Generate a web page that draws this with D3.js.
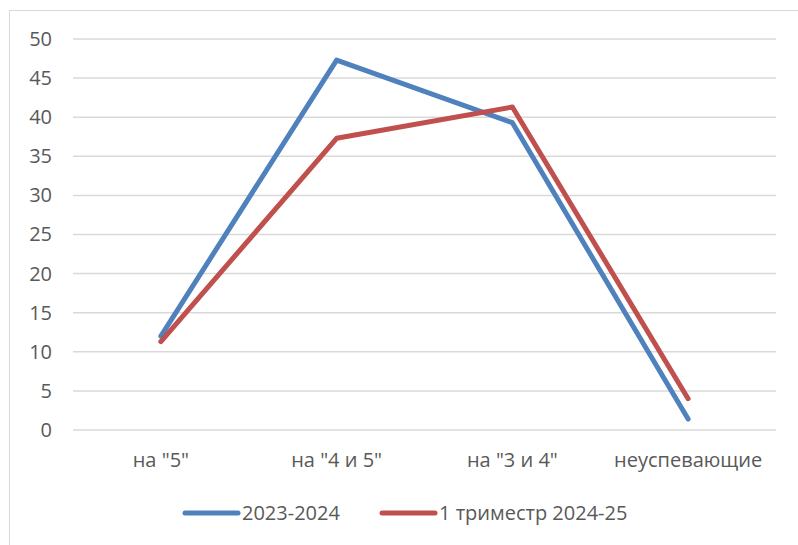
<!DOCTYPE html>
<html>
<head>
<meta charset="utf-8">
<script src="https://cdn.jsdelivr.net/npm/d3@7"></script>
<style>
  body { margin: 0; background: #fff; }
  svg { display: block; }
</style>
</head>
<body>
<svg id="chart" width="798" height="545"></svg>
<script>
// data
const categories = ['на "5"', 'на "4 и 5"', 'на "3 и 4"', 'неуспевающие'];
const seriesNames = ["2023-2024", "1 триместр 2024-25"];
const values2023 = [12.0, 47.3, 39.3, 1.4];
const values2024 = [11.3, 37.3, 41.3, 4.0];
const yTicks = [0, 5, 10, 15, 20, 25, 30, 35, 40, 45, 50];
const colors = ["#4F81BD", "#C0504D"];

const width = 798, height = 545;
const margin = {left: 73, right: 22, top: 39, bottom: 115};
const font = "'Open Sans', 'Liberation Sans', sans-serif";
const fontSize = 20;
const textColor = "#595959";

const svg = d3.select("#chart");

// outer frame of the chart area
svg.append("rect")
    .attr("x", 9.5).attr("y", 10.5)
    .attr("width", 800).attr("height", 540)
    .attr("fill", "none")
    .attr("stroke", "#D9D9D9")
    .attr("stroke-width", 1);

const x = d3.scaleBand()
    .domain(categories)
    .range([margin.left, width - margin.right]);

const y = d3.scaleLinear()
    .domain([0, 50])
    .range([height - margin.bottom, margin.top]);

// gridlines
svg.append("g")
    .selectAll("line")
    .data(yTicks)
    .join("line")
    .attr("x1", margin.left)
    .attr("x2", width - margin.right)
    .attr("y1", d => y(d))
    .attr("y2", d => y(d))
    .attr("stroke", "#D9D9D9")
    .attr("stroke-width", 1.5);

// y axis labels
const yAxis = svg.append("g")
    .attr("transform", `translate(${margin.left - 21},0)`)
    .call(d3.axisLeft(y).tickValues(yTicks).tickSize(0).tickPadding(0));
yAxis.select(".domain").remove();
yAxis.selectAll("text")
    .attr("font-family", font)
    .attr("font-size", fontSize)
    .attr("fill", textColor);

// x axis labels
const xAxis = svg.append("g")
    .attr("transform", `translate(0,${y(0) + 23})`)
    .call(d3.axisBottom(x).tickSize(0).tickPadding(0));
xAxis.select(".domain").remove();
xAxis.selectAll("text")
    .attr("font-family", font)
    .attr("font-size", fontSize)
    .attr("fill", textColor);

// lines
const line = d3.line()
    .x((d, i) => x(categories[i]) + x.bandwidth() / 2)
    .y(d => y(d));

[values2023, values2024].forEach((vals, k) => {
    svg.append("path")
        .datum(vals)
        .attr("d", line)
        .attr("fill", "none")
        .attr("stroke", colors[k])
        .attr("stroke-width", 5)
        .attr("stroke-linecap", "round")
        .attr("stroke-linejoin", "round");
});

// legend
const legendX = [185, 382];
const legendY = 513;
const legend = svg.append("g");
seriesNames.forEach((name, k) => {
    legend.append("line")
        .attr("x1", legendX[k]).attr("x2", legendX[k] + 53)
        .attr("y1", legendY).attr("y2", legendY)
        .attr("stroke", colors[k])
        .attr("stroke-width", 5)
        .attr("stroke-linecap", "round");
    legend.append("text")
        .attr("x", legendX[k] + 57)
        .attr("y", legendY)
        .attr("dy", "0.35em")
        .attr("font-family", font)
        .attr("font-size", fontSize)
        .attr("fill", textColor)
        .text(name);
});
</script>
</body>
</html>
